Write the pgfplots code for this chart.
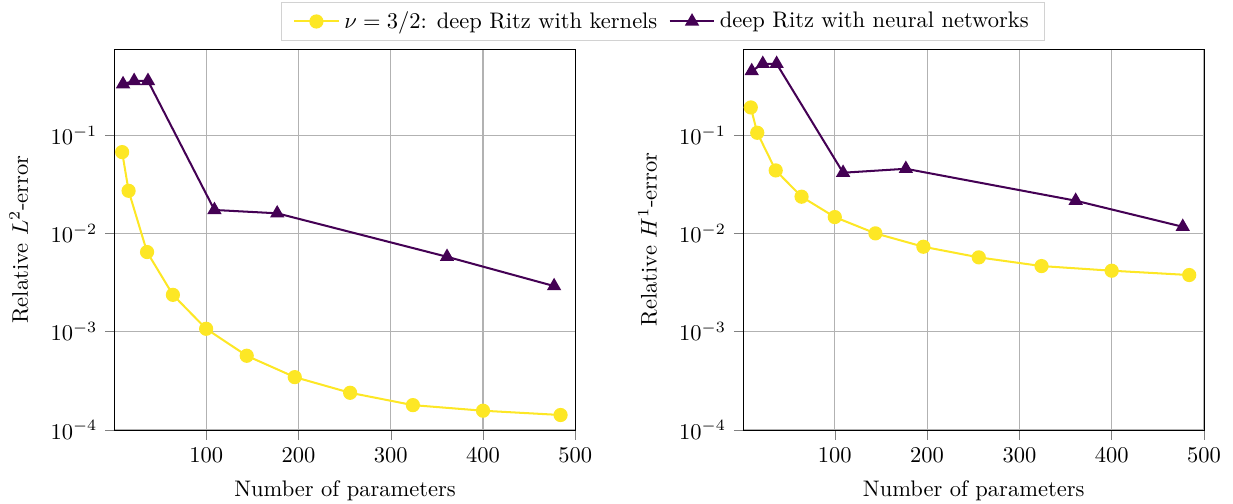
\documentclass[border=0pt]{standalone}
\usepackage{pgfplots}
\pgfplotsset{compat=1.18}
\definecolor{vyellow}{RGB}{253,231,37}
\definecolor{vpurple}{RGB}{68,1,84}
\definecolor{gridgray}{RGB}{178,178,178}
\begin{document}
\begin{tikzpicture}
\useasboundingbox (-51pt,-32.9pt) rectangle (497pt,191.1pt);
\begin{axis}[
  scale only axis, width=204.7pt, height=169.3pt,
  ymode=log, xmin=1, xmax=500, ymin=1e-4, ymax=0.75,
  xtick={100,200,300,400,500}, ytick={1e-4,1e-3,1e-2,1e-1},
  yminorticks=false, tick align=outside, xtick pos=bottom, ytick pos=left,
  grid=major, major grid style={line width=0.5pt, color=gridgray},
  xlabel={Number of parameters},
  ylabel={Relative $L^2$-error},
  xlabel style={yshift=-1.3pt},
  ylabel style={yshift=3pt},
  legend style={at={(1.1905,1.021)}, anchor=south, draw=gray!35, font=\normalsize, inner xsep=5pt,
    /tikz/every even column/.append style={column sep=3pt}},
  legend columns=2,
  legend image code/.code={\draw[mark repeat=2,mark phase=2] plot coordinates {(0cm,0cm) (0.35cm,0cm) (0.7cm,0cm)};},
]
\addplot[color=vyellow, line width=0.9pt, mark=*, mark size=2.7pt, mark options={solid, fill=vyellow, draw=vyellow}] coordinates {(9,0.0671) (16,0.0271) (36,0.00646) (64,0.00237) (100,0.00107) (144,5.69e-4) (196,3.45e-4) (256,2.39e-4) (324,1.79e-4) (400,1.57e-4) (484,1.42e-4)};
\addlegendentry{$\nu=3/2$: deep Ritz with kernels}
\addplot[color=vpurple, line width=0.9pt, mark=triangle*, mark size=2.8pt, mark options={solid, fill=vpurple, draw=vpurple}] coordinates {(10,0.33) (22,0.356) (37,0.356) (109,0.0173) (177,0.0160) (361,0.00578) (477,0.00291)};
\addlegendentry{deep Ritz with neural networks}
\end{axis}
\begin{axis}[
  at={(279.4pt,0pt)},
  scale only axis, width=204.7pt, height=169.3pt,
  ymode=log, xmin=1, xmax=500, ymin=1e-4, ymax=0.75,
  xtick={100,200,300,400,500}, ytick={1e-4,1e-3,1e-2,1e-1},
  yminorticks=false, tick align=outside, xtick pos=bottom, ytick pos=left,
  grid=major, major grid style={line width=0.5pt, color=gridgray},
  xlabel={Number of parameters},
  ylabel={Relative $H^1$-error},
  xlabel style={yshift=-1.3pt},
  ylabel style={yshift=3pt},
]
\addplot[color=vyellow, line width=0.9pt, mark=*, mark size=2.7pt, mark options={solid, fill=vyellow, draw=vyellow}] coordinates {(9,0.191) (16,0.1055) (36,0.0437) (64,0.0236) (100,0.01465) (144,0.0100) (196,0.00731) (256,0.0057) (324,0.00465) (400,0.00417) (484,0.00377)};
\addplot[color=vpurple, line width=0.9pt, mark=triangle*, mark size=2.8pt, mark options={solid, fill=vpurple, draw=vpurple}] coordinates {(10,0.448) (22,0.531) (37,0.531) (109,0.0414) (177,0.0454) (361,0.0215) (477,0.01167)};
\end{axis}
\end{tikzpicture}
\end{document}
